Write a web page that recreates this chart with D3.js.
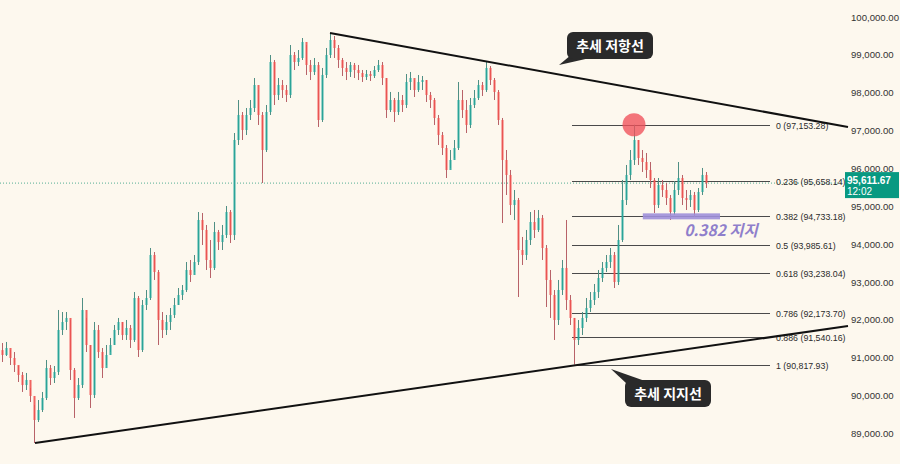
<!DOCTYPE html>
<html><head><meta charset="utf-8">
<script src="https://cdn.jsdelivr.net/npm/d3@7"></script>
<style>
html,body{margin:0;padding:0;background:#fdf8ee;}
svg{display:block;}
</style></head>
<body>
<svg id="c" width="900" height="464"></svg>
<script>
// ---------- data ----------
const closes = [91070,91255,90991,90806,90542,90277,90410,89987,89353,89617,
89934,90726,90462,90621,91731,91942,92048,90674,89934,90277,
92259,91334,90013,91731,91149,90726,91070,91334,91731,91942,
91598,91783,91467,92576,91202,92391,92576,93712,93263,91995,
91731,91942,92127,92391,92655,92787,93316,93184,93527,94637,
94373,93580,93369,94320,94055,94240,94848,94240,96750,97411,
97015,97411,97596,98203,97411,96486,97490,98811,97939,98203,
98071,97939,98996,98811,98917,99340,98732,98547,98732,97279,
98468,98996,99392,99181,98864,98653,98547,98732,98600,98520,
98415,98494,98441,98600,98732,98388,97543,97807,97490,97807,
97675,98283,98388,98071,98283,98335,97939,97807,97332,96882,
96539,95958,96222,96539,97807,97543,97147,97675,97860,98203,
98071,98653,98335,98019,97279,96222,95826,95033,95165,93844,
93712,94108,94584,94373,94690,93897,93052,92655,91995,92787,
93369,92523,92048,91467,91783,92048,92312,92523,92734,93104,
93369,93527,93712,92999,94108,95165,95826,96222,96750,96275,
96169,95958,95694,95033,95561,95429,95218,94848,95429,95746,
95218,95165,95297,94901,95377,95826,95611.67];
const highs = [91387,91414,91202,91149,90779,90621,90595,90198,89749,89881,
90093,90938,90806,90779,92259,92206,92206,91995,90726,90462,
92576,92048,91334,91942,91863,91255,91334,91519,91863,92048,
91942,91995,91863,92734,92629,92523,92787,93897,93791,93316,
92206,92127,92312,92576,92840,92919,93527,93580,93712,94848,
94822,94505,94108,94584,94373,94505,95007,94901,96935,97807,
97490,97596,97807,98388,98071,97490,97675,98996,98864,98388,
98335,98203,99260,99075,99128,99445,99260,98864,98917,98811,
98653,99181,99577,99498,99260,98917,98811,98811,98785,98732,
98600,98600,98573,98705,98864,98811,98388,98019,97860,98019,
97939,98494,98547,98335,98468,98441,98335,98019,97860,97411,
96962,96618,96486,96750,98283,98071,97807,97860,98071,98335,
98283,98811,98705,98388,98071,97332,96486,95958,95429,95218,
94188,94373,94848,94901,94901,94769,93976,93316,92787,93052,
93580,94637,92655,92048,91995,92206,92576,92734,92946,93316,
93527,93712,93897,93791,94505,95694,96090,96486,97153.28,96750,
96486,96407,96169,95746,95746,95694,95614,95297,95667,96169,
95826,95429,95429,95377,95482,96011,95905];
const lows = [90885,91044,90806,90621,90357,90093,90145,89828,88745,89300,
89564,89881,90277,90330,90542,91598,91731,90410,89406,89881,
90198,91149,89670,89934,90991,90462,90806,91149,91334,91598,
91467,91467,91255,91414,91017,91149,92259,92523,93052,91334,
91519,91598,91731,92048,92391,92523,92734,92999,93263,93448,
93976,93316,93104,93316,93844,93844,94161,94029,94108,96618,
96750,96882,97279,97490,97147,95614,96433,97411,97675,97807,
97860,97754,97860,98600,98705,98864,98468,98335,98468,97094,
97226,98388,98917,98917,98653,98441,98335,98415,98388,98335,
98283,98335,98309,98388,98547,98203,97332,97490,97226,97411,
97490,97596,98071,97886,98019,98071,97754,97596,97147,96618,
96354,95746,96011,96275,96486,97332,96935,97067,97596,97807,
97913,98019,98203,97807,97147,94557,95297,94769,94637,92602,
93448,93580,93976,94161,94320,93580,92338,92048,91467,91863,
92655,92259,91863,90817.93,91334,91598,91942,92206,92391,92576,
92999,93263,93369,92840,92919,94055,95033,95694,96090,96090,
95905,95746,95482,94822,94954,95244,95033,94637,94769,95297,
95033,94901,94980,94716,94848,95297,95482];
const firstOpen = 91200;

const yTicks = [89000,90000,91000,92000,93000,94000,95000,96000,97000,98000,99000,100000];
const fibRatios = [0,0.236,0.382,0.5,0.618,0.786,0.886,1];
const fibPrices = [97153.28,95658.14,94733.18,93985.61,93238.04,92173.70,91540.16,90817.93];
const lastPrice = 95611.67;
const lastTime = "12:02";
// trendline anchors (candle index, price)
const resistance = [[82,99577],[211.5,97094]];
const support = [[8.25,88745],[211.5,91836]];
const fibRange = [142.5,192];     // candle index span of the fib tool
const peakIndex = 158;            // circled swing high
const supportZone = [160.2,179.5]; // highlighted 0.382 support span
const notes = {resist:"추세 저항선", support:"추세 지지선", fib:"0.382 지지"};

// ---------- scales ----------
const svg = d3.select("#c");
const W = 900, H = 464;
svg.append("rect").attr("width",W).attr("height",H).attr("fill","#fdf8ee");

const x = d3.scaleLinear().domain([0, closes.length-1]).range([2, 706]);
const y = d3.scaleLinear().domain([89000,100000]).range([433.35,17]);

const candles = closes.map((c,i)=>({i, o: i===0?firstOpen:closes[i-1], c, h:highs[i], l:lows[i]}));

// ---------- current price dotted line ----------
svg.append("line").attr("x1",0).attr("x2",843).attr("y1",y(lastPrice)).attr("y2",y(lastPrice))
  .attr("stroke","#2a9d7f").attr("stroke-width",1).attr("stroke-dasharray","1,2").attr("opacity",0.8);

// ---------- fib lines ----------
const fg = svg.append("g");
fibRatios.forEach((r,k)=>{
  const yy = Math.round(y(fibPrices[k]))+0.5;
  fg.append("line").attr("x1",x(fibRange[0])).attr("x2",x(fibRange[1])).attr("y1",yy).attr("y2",yy)
    .attr("stroke","#4a4a4a").attr("stroke-width",1);
  fg.append("text").attr("x",x(fibRange[1])+6).attr("y",yy).attr("dy","0.35em")
    .attr("font-family","Liberation Sans, Arial, sans-serif").attr("font-size",8.8).attr("fill","#2b2b2b")
    .text(`${r} (${d3.format(",.2f")(fibPrices[k])})`);
});

// ---------- candles ----------
const cg = svg.append("g");
const up = "#26a69a", dn = "#ef5350";
cg.selectAll("line.w").data(candles).join("line")
  .attr("x1",d=>Math.round(x(d.i))+0.5).attr("x2",d=>Math.round(x(d.i))+0.5)
  .attr("y1",d=>y(d.h)).attr("y2",d=>y(d.l))
  .attr("stroke",d=>d.c>=d.o?"#4f8f84":"#b86268").attr("stroke-width",1);
cg.selectAll("rect.b").data(candles).join("rect")
  .attr("x",d=>Math.round(x(d.i))-0.5).attr("width",2)
  .attr("y",d=>y(Math.max(d.o,d.c))).attr("height",d=>Math.max(1,Math.abs(y(d.o)-y(d.c))))
  .attr("fill",d=>d.c>=d.o?up:dn).attr("opacity",0.9);

// ---------- trend lines ----------
[resistance, support].forEach(t=>{
  svg.append("line").attr("x1",x(t[0][0])).attr("y1",y(t[0][1])).attr("x2",x(t[1][0])).attr("y2",y(t[1][1]))
    .attr("stroke","#111").attr("stroke-width",2);
});

// ---------- peak circle ----------
svg.append("circle").attr("cx",x(peakIndex)).attr("cy",y(fibPrices[0])).attr("r",11.5)
  .attr("fill","#f0505a").attr("opacity",0.78);

// ---------- support zone bar + note ----------
svg.append("rect").attr("x",x(supportZone[0])).attr("width",x(supportZone[1])-x(supportZone[0]))
  .attr("y",y(fibPrices[2])-3).attr("height",6).attr("fill","#9f8fd9").attr("opacity",0.9);
svg.append("text").attr("x",721).attr("y",y(fibPrices[2])+20).attr("text-anchor","middle")
  .attr("font-family","Noto Sans CJK KR, Noto Sans, sans-serif").attr("font-size",15.5).attr("font-weight","bold")
  .attr("font-style","italic").attr("fill","#8f7fcb").text(notes.fib);

// ---------- callouts ----------
function callout(bx,by,bw,bh,tail,txt){
  const g = svg.append("g");
  g.append("path").attr("d",`M${tail[0][0]},${tail[0][1]}L${tail[1][0]},${tail[1][1]}L${tail[2][0]},${tail[2][1]}Z`).attr("fill","#2a2a2a");
  g.append("rect").attr("x",bx).attr("y",by).attr("width",bw).attr("height",bh).attr("rx",6).attr("fill","#2a2a2a");
  g.append("text").attr("x",bx+bw/2).attr("y",by+bh/2).attr("dy","0.36em").attr("text-anchor","middle")
    .attr("font-family","Noto Sans CJK KR, sans-serif").attr("font-weight","bold").attr("font-size",14)
    .attr("fill","#fff").text(txt);
}
callout(567,32,86,27,[[571,55],[590,58],[559,65]],notes.resist);
callout(625,380,86,27,[[627,384],[645,381],[611,369]],notes.support);

// ---------- right axis ----------
const ax = svg.append("g").attr("transform","translate(849,0)")
  .call(d3.axisRight(y).tickValues(yTicks).tickFormat(d3.format(",.2f")).tickSize(0).tickPadding(2));
ax.select(".domain").remove();
ax.selectAll("text").attr("font-family","Liberation Sans, Arial, sans-serif").attr("font-size",9.6).attr("fill","#333");

// ---------- price tag ----------
const py = y(lastPrice);
svg.append("rect").attr("x",845).attr("y",py-11).attr("width",54).attr("height",26).attr("fill","#089981");
svg.append("text").attr("x",847).attr("y",py+0.5).attr("font-family","Liberation Sans, Arial, sans-serif")
  .attr("font-size",10).attr("font-weight","bold").attr("fill","#fff").text(d3.format(",.2f")(lastPrice));
svg.append("text").attr("x",847).attr("y",py+11.5).attr("font-family","Liberation Sans, Arial, sans-serif")
  .attr("font-size",10).attr("fill","#fff").text(lastTime);
</script>
</body></html>
